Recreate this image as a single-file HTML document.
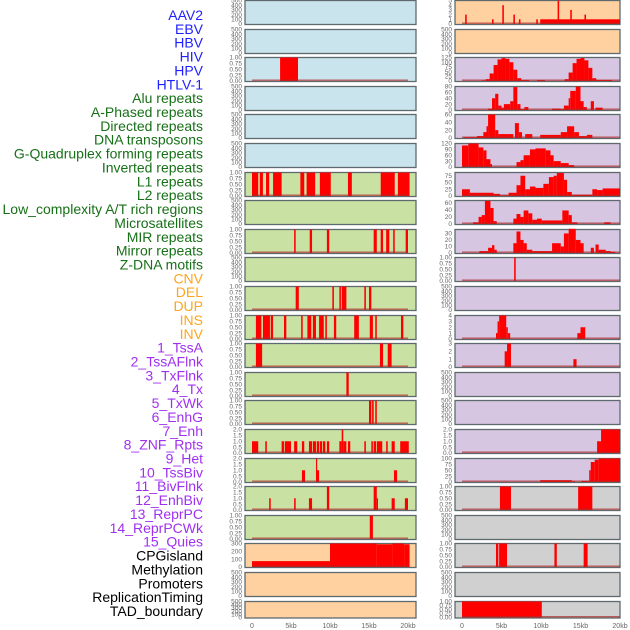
<!DOCTYPE html>
<html><head><meta charset="utf-8"><style>
html,body{margin:0;padding:0;background:#fff;}
svg{display:block;font-family:"Liberation Sans",sans-serif;}
</style></head><body>
<svg id="chart" width="630" height="630" xmlns="http://www.w3.org/2000/svg"></svg>
<script>
// ---- data ----
const labels = ["AAV2","EBV","HBV","HIV","HPV","HTLV-1","Alu repeats","A-Phased repeats","Directed repeats","DNA transposons","G-Quadruplex forming repeats","Inverted repeats","L1 repeats","L2 repeats","Low_complexity A/T rich regions","Microsatellites","MIR repeats","Mirror repeats","Z-DNA motifs","CNV","DEL","DUP","INS","INV","1_TssA","2_TssAFlnk","3_TxFlnk","4_Tx","5_TxWk","6_EnhG","7_Enh","8_ZNF_Rpts","9_Het","10_TssBiv","11_BivFlnk","12_EnhBiv","13_ReprPC","14_ReprPCWk","15_Quies","CPGisland","Methylation","Promoters","ReplicationTiming","TAD_boundary"];
const labelGroups = [6,13,5,15,5];
const groupColors = ["#1f1fff","#177017","#ffa51f","#a030f0","#000000"];
const xTickValues = [0,5,10,15,20];
const xTickLabels = ["0","5kb","10kb","15kb","20kb"];
const ticksEmpty = [0,100,200,300,400,500];
const ticks01 = [0,0.25,0.5,0.75,1];
const ticks02 = [0,0.5,1,1.5,2];

// segments: [startKb, endKb, value]
const L2 = [[3.6,5.9,1]];
const L6 = [[0,0.8,1],[1.0,1.4,1],[1.8,2.2,1],[2.7,3.8,1],[6.2,6.7,1],[7.0,8.1,1],[8.7,10.1,1],[12.3,12.8,1],[16.5,18.3,1],[18.7,20.2,1]];
const L8 = [[5.4,5.6,1],[7.4,7.7,1],[9.6,9.9,1],[15.6,16.0,1],[16.5,16.8,1],[17.2,17.6,1],[18.1,18.3,1],[19.7,20.0,1]];
const L10 = [[5.6,6.0,1],[10.3,10.5,1],[11.2,11.4,1],[11.5,12.1,1],[14.4,14.6,1],[15.0,15.3,1]];
const L11 = [[0.5,1.2,1],[1.4,2.3,1],[2.4,2.7,1],[4.1,4.4,1],[6.3,6.5,1],[7.1,7.6,1],[7.8,8.2,1],[8.6,9.2,1],[9.4,9.6,1],[10.5,10.8,1],[13.1,13.7,1],[15.1,15.5,1],[15.8,16.0,1],[19.1,19.4,1]];
const L12 = [[0.5,1.3,1],[16.4,16.8,1],[17.4,17.9,1]];
const L13 = [[12.1,12.4,1]];
const L14 = [[15.0,15.3,1],[15.4,15.6,1],[15.8,16.0,1]];
const L15 = [[0,0.8,1],[1.7,1.9,1],[3.8,4.1,1],[4.2,5.0,1],[5.4,5.8,1],[6.4,6.7,1],[7.3,7.7,1],[7.8,8.2,1],[8.3,8.6,1],[8.7,9.0,1],[9.1,9.4,1],[9.6,9.9,1],[11.2,11.5,1],[11.5,11.7,2],[11.7,12.1,1],[12.3,12.6,1],[14.4,14.6,1],[15.3,15.5,1],[15.6,15.9,1],[16.0,16.7,1],[17.2,17.4,1],[17.9,18.3,1],[19.0,20.1,1]];
const L16 = [[6.4,6.8,1],[8.2,8.3,2],[8.3,8.6,1],[18.2,18.6,1]];
const L17 = [[2.2,2.4,1],[5.4,5.6,1],[7.3,7.7,1],[9.6,9.9,2],[15.6,16.0,2],[16.0,16.1,1],[17.9,18.3,1],[19.6,20.0,1]];
const L18 = [[15.1,15.5,1]];
const L19 = [[0,10.0,75],[10.0,16.0,300],[16.0,18.0,290],[18.0,19.5,300],[19.5,20.2,290]];

const R0 = [[0.4,0.6,2],[3.8,4.0,1],[5.1,5.3,4],[6.5,6.7,2],[7.2,7.4,1],[9.4,9.6,1],[9.9,20.0,1],[12.1,12.3,5],[13.7,13.9,3],[15.5,15.7,2]];
const R2 = [[2.5,3,3],[3,3.5,10],[3.5,4,40],[4,4.5,85],[4.5,5,115],[5,5.5,122],[5.5,6,118],[6,6.5,100],[6.5,7,60],[7,7.5,15],[7.5,8.5,5],[9.5,10.5,5],[13,13.5,10],[13.5,14,45],[14,14.5,95],[14.5,15,118],[15,15.5,122],[15.5,16,110],[16,16.5,70],[16.5,17,15],[17,19,5]];
const R3 = [[3.3,3.8,5],[3.8,4.2,40],[4.2,4.6,55],[4.6,5.0,15],[5.0,5.3,8],[5.3,6.1,20],[6.1,6.5,30],[6.5,7.0,78],[7.0,7.4,20],[7.4,7.9,3],[7.9,8.4,10],[11.4,12.5,5],[12.5,12.9,3],[12.9,13.5,15],[13.5,13.7,40],[13.7,14.4,65],[14.4,15.0,80],[15.0,15.4,30],[15.4,15.8,10],[16.3,16.7,30],[16.9,17.8,8]];
const R4 = [[0.2,1.9,2],[1.9,2.7,5],[2.7,3.1,15],[3.1,3.3,30],[3.3,4.2,60],[4.2,4.6,20],[4.6,6.5,10],[6.7,7.2,38],[7.2,7.6,15],[8.0,8.9,10],[9.9,12.5,8],[12.5,13.3,15],[13.3,14.2,30],[14.2,14.8,15],[14.8,15.8,5],[15.8,16.5,8]];
const R5 = [[0,0.8,110],[0.8,2.1,120],[2.1,2.7,100],[2.7,3.1,85],[3.1,3.6,40],[3.6,3.8,15],[6.9,7.4,25],[7.4,7.8,35],[7.8,8.6,60],[8.6,9.3,90],[9.3,10.6,95],[10.6,11.2,85],[11.2,11.6,60],[11.6,12.5,30],[12.5,13.5,20],[13.5,14.2,10]];
const R6 = [[0,1.0,25],[1.0,4.0,12],[4.0,4.8,8],[4.8,5.9,2],[5.9,6.9,12],[6.9,7.4,40],[7.4,8.0,75],[8.0,8.6,25],[8.6,9.3,35],[9.3,10.3,30],[10.3,11.0,45],[11.0,11.6,70],[11.6,12.0,75],[12.0,12.9,85],[12.9,13.3,60],[13.3,13.9,15],[13.9,16.5,5],[16.5,17.1,25],[17.1,17.8,22],[17.8,20.0,28]];
const R7 = [[1.4,2.1,5],[2.1,2.5,20],[2.5,2.9,25],[2.9,3.6,65],[3.6,4.0,45],[4.0,4.4,8],[6.5,6.9,15],[6.9,7.4,28],[7.4,7.8,20],[7.8,8.4,38],[8.4,8.9,30],[8.9,9.5,12],[9.5,10.1,15],[10.1,12.7,10],[12.7,13.5,38],[13.5,13.9,25],[13.9,14.6,5],[18.0,18.8,5]];
const R8 = [[2.2,3.3,3],[3.3,3.8,8],[3.8,4.1,12],[4.1,4.4,5],[6.5,6.9,15],[6.9,7.4,33],[7.4,7.8,20],[7.8,8.2,15],[8.2,8.9,5],[8.9,11.4,3],[11.4,12.5,15],[12.5,12.9,10],[12.9,13.5,30],[13.5,14.4,37],[14.4,15.0,20],[15.0,15.4,15],[16.3,16.7,8],[16.9,17.3,13],[17.3,18.2,5],[18.2,18.8,3],[18.8,19.4,2]];
const R9 = [[6.6,6.8,1]];
const R11 = [[4.3,4.5,1],[4.5,4.7,3],[4.7,5.6,4],[5.6,5.8,2],[5.8,6.1,1],[14.6,15.0,1],[15.0,15.6,2]];
const R12 = [[5.4,5.7,2],[5.7,6.2,3],[14.1,14.5,1]];
const R15 = [[17.1,17.6,1],[17.6,20.0,2]];
const R16 = [[9.9,13.9,8],[13.9,14.3,3],[15.1,16.1,5],[16.1,16.3,50],[16.3,16.8,85],[16.8,17.3,95],[17.3,20.0,100]];
const R17 = [[4.8,6.2,1],[14.7,16.5,1]];
const R19 = [[4.3,4.6,1],[4.7,5.7,1],[11.7,12.0,1],[15.4,15.9,1]];
const R21 = [[0,10.1,1]];

const leftData  = [null,null,L2,null,null,null,L6,null,L8,null,L10,L11,L12,L13,L14,L15,L16,L17,L18,L19,null,null];
const rightData = [R0,null,R2,R3,R4,R5,R6,R7,R8,R9,null,R11,R12,null,null,R15,R16,R17,null,R19,null,R21];
const leftMax  = [500,500,1,500,500,500,1,500,1,500,1,1,1,1,1,2,2,2,1,300,500,500];
const rightMax = [5,500,125,80,60,120,87,66,36,1,500,4,3,500,500,2,100,1,500,1,500,1];
const leftTicks  = [null,null,ticks01,null,null,null,ticks01,null,ticks01,null,ticks01,ticks01,ticks01,ticks01,ticks01,ticks02,ticks02,ticks02,ticks01,[0,100,200,300],null,null];
const rightTicks = [[0,1,2,3,4,5],null,[0,25,50,75,100,125],[0,20,40,60,80],[0,20,40,60],[0,30,60,90,120],[0,25,50,75],[0,20,40,60],[0,10,20,30],ticks01,null,[0,1,2,3,4],[0,1,2,3],null,null,ticks02,[0,25,50,75,100],ticks01,null,ticks01,null,ticks01];
const leftBg  = ["#c9e4ec","#c9e4ec","#c9e4ec","#c9e4ec","#c9e4ec","#c9e4ec","#c9e2a4","#c9e2a4","#c9e2a4","#c9e2a4","#c9e2a4","#c9e2a4","#c9e2a4","#c9e2a4","#c9e2a4","#c9e2a4","#c9e2a4","#c9e2a4","#c9e2a4","#ffd1a0","#ffd1a0","#ffd1a0"];
const rightBg = ["#ffd1a0","#ffd1a0","#d6c6e2","#d6c6e2","#d6c6e2","#d6c6e2","#d6c6e2","#d6c6e2","#d6c6e2","#d6c6e2","#d6c6e2","#d6c6e2","#d6c6e2","#d6c6e2","#d6c6e2","#d6c6e2","#d6c6e2","#d0d0d0","#d0d0d0","#d0d0d0","#d0d0d0","#d0d0d0"];

// ---- drawing ----
const NS = "http://www.w3.org/2000/svg";
const svg = document.getElementById("chart");
function mk(tag, attrs, parent){ const e=document.createElementNS(NS,tag); for(const k in attrs) e.setAttribute(k,attrs[k]); (parent||svg).appendChild(e); return e; }

// labels
let li=0;
labelGroups.forEach((n,g)=>{
  for(let k=0;k<n;k++){
    const t=mk("text",{x:203,y:(20+li*13.86).toFixed(1),"text-anchor":"end","font-size":"14",fill:groupColors[g]});
    
    
    t.textContent=labels[li]; li++;
  }
});

const cols = [
  {px:245, pw:171, x0:252, s:7.8, data:leftData, max:leftMax, ticks:leftTicks, bg:leftBg, name:'left'},
  {px:455, pw:165, x0:462, s:7.9, data:rightData, max:rightMax, ticks:rightTicks, bg:rightBg, name:'right'}
];
function fmt(v,ticks){
  const m=Math.max(...ticks);
  if(m===1) return v.toFixed(2);
  if(m===2) return v.toFixed(1);
  return String(v);
}
cols.forEach(c=>{
  const xs = kb => c.x0 + kb*c.s;
  for(let r=0;r<22;r++){
    const top = Math.round(28.6*r)+0.5;
    const h = r===21 ? 16.5 : 24;
    const bottom = top+h;
    const ymax = c.max[r];
    const ys = v => bottom - 0.5 - (v/ymax)*(h-0.5);
    const g = mk("g",{});
    
    
    const bg = mk("rect",{x:c.px,y:top,width:c.pw,height:h,fill:c.bg[r],stroke:"#5e6a6e","stroke-width":1.3},g);
    
    
    // ticks
    const tk = c.ticks[r] || ticksEmpty;
    tk.forEach(v=>{
      const t=mk("text",{x:c.px-3,y:(ys(v)+2.2).toFixed(1),"text-anchor":"end","font-size":"6.5",fill:"#666"},g);
      
      
      t.textContent = c.ticks[r] ? fmt(v,tk) : String(v);
    });
    const d = c.data[r];
    if(d){
      d.forEach(seg=>{
        const x1=xs(seg[0]), x2=xs(seg[1]);
        const b=mk("rect",{x:x1.toFixed(2),y:ys(seg[2]).toFixed(2),width:Math.max(1.2,x2-x1).toFixed(2),height:(ys(0)-ys(seg[2])).toFixed(2),fill:"#ff0000"},g);
        
        
      });
      const bl=mk("line",{x1:xs(0),x2:xs(20),y1:ys(0)-0.8,y2:ys(0)-0.8,stroke:"rgba(175,40,40,0.7)","stroke-width":1.4},g);
      
      
    }
  }
  xTickValues.forEach((v,i)=>{
    const t=mk("text",{x:xs(v),y:628,"text-anchor":"middle","font-size":"7",fill:"#666"});
    
    
    t.textContent=xTickLabels[i];
  });
});
</script>
</body></html>
